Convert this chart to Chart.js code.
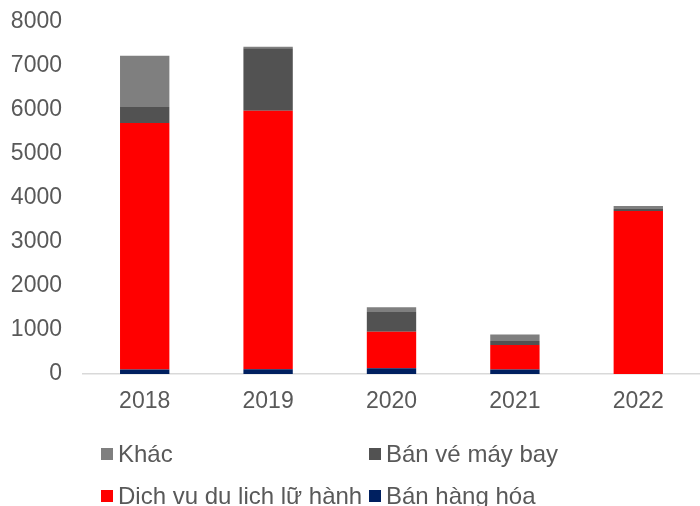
<!DOCTYPE html>
<html>
<head>
<meta charset="utf-8">
<script src="https://cdn.jsdelivr.net/npm/chart.js@4/dist/chart.umd.min.js"></script>
<style>
  html, body { margin: 0; padding: 0; background: #fff; overflow: hidden; }
  #wrap { position: relative; width: 700px; height: 506px; }
  #legend { position: absolute; left: 0; top: 0; width: 700px; height: 506px; pointer-events: none;
            font-family: "Liberation Sans", Arial, sans-serif; font-size: 24px; color: #595959; }
  .item { position: absolute; display: flex; align-items: center; white-space: nowrap; line-height: 28px; }
  .box { width: 12px; height: 12px; margin-right: 5px; }
</style>
</head>
<body>
<div id="wrap">
  <canvas id="chart" width="700" height="506"></canvas>
  <div id="legend"></div>
</div>
<script>
// Data
var years = ['2018', '2019', '2020', '2021', '2022'];
var banHangHoa = [100, 110, 130, 105, 0];
var dichVuDuLich = [5605, 5874, 830, 555, 3705];
var banVeMayBay = [363, 1418, 450, 90, 45];
var khac = [1166, 37, 105, 150, 70];
var yTicks = [0, 1000, 2000, 3000, 4000, 5000, 6000, 7000, 8000];

var fontFamily = '"Liberation Sans", Arial, sans-serif';
var textColor = '#595959';

// Stacking order bottom to top
var datasets = [
    { label: 'Bán hàng hóa', data: banHangHoa, backgroundColor: '#002060' },
    { label: 'Dich vu du lich lữ hành', data: dichVuDuLich, backgroundColor: '#ff0000' },
    { label: 'Bán vé máy bay', data: banVeMayBay, backgroundColor: '#525252' },
    { label: 'Khác', data: khac, backgroundColor: '#7f7f7f' }
];
datasets.forEach(function(ds) {
    ds.barPercentage = 0.4;
    ds.categoryPercentage = 1.0;
    ds.borderWidth = 0;
});

var chart = new Chart(document.getElementById('chart').getContext('2d'), {
    type: 'bar',
    data: { labels: years, datasets: datasets },
    options: {
        responsive: false,
        animation: false,
        layout: { padding: { top: 22, right: 0, bottom: 90, left: 0 } },
        plugins: {
            legend: { display: false },
            tooltip: { enabled: false }
        },
        scales: {
            x: {
                stacked: true,
                grid: { display: false, drawTicks: false },
                border: { display: true, color: '#d9d9d9', width: 1.5 },
                ticks: { color: textColor, font: { family: fontFamily, size: 23 }, padding: 14 },
                afterFit: function(scale) { scale.height = 42; }
            },
            y: {
                stacked: true,
                min: 0,
                max: 8000,
                afterBuildTicks: function(scale) {
                    scale.ticks = yTicks.map(function(v) { return { value: v }; });
                },
                grid: { display: false, drawTicks: false },
                border: { display: false },
                ticks: {
                    color: textColor,
                    font: { family: fontFamily, size: 23 },
                    padding: 21,
                    callback: function(v) { return String(v); }
                },
                afterFit: function(scale) {
                    scale.width = 83;
                    scale.paddingTop = 0;
                    scale.paddingBottom = 0;
                }
            }
        }
    }
});

// Two-column legend, top series first
var legendPos = [
    { left: 101, top: 440 },
    { left: 369, top: 440 },
    { left: 101, top: 482 },
    { left: 369, top: 482 }
];
var legendEl = document.getElementById('legend');
datasets.slice().reverse().forEach(function(ds, i) {
    var item = document.createElement('div');
    item.className = 'item';
    item.style.left = legendPos[i].left + 'px';
    item.style.top = legendPos[i].top + 'px';
    var box = document.createElement('span');
    box.className = 'box';
    box.style.background = ds.backgroundColor;
    var txt = document.createElement('span');
    txt.textContent = ds.label;
    item.appendChild(box);
    item.appendChild(txt);
    legendEl.appendChild(item);
});
</script>
</body>
</html>
